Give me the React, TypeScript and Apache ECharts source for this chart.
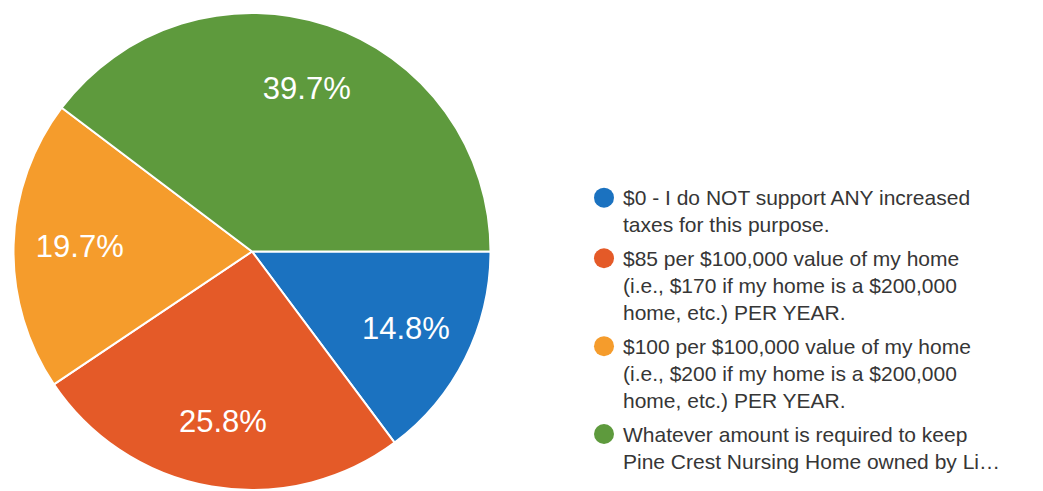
import React, { useEffect, useRef } from "react";
import * as echarts from "echarts";

const categories: string[] = [
  "$0 - I do NOT support ANY increased\ntaxes for this purpose.",
  "$85 per $100,000 value of my home\n(i.e., $170 if my home is a $200,000\nhome, etc.) PER YEAR.",
  "$100 per $100,000 value of my home\n(i.e., $200 if my home is a $200,000\nhome, etc.) PER YEAR.",
  "Whatever amount is required to keep\nPine Crest Nursing Home owned by Li…",
];
const shares: number[] = [14.8, 25.8, 19.7, 39.7];
const colors: string[] = ["#1b72c0", "#e45a28", "#f59c2c", "#5e9a3d"];

const LINE_H = 27.3;
const DOT = 20;

function dotIcon(lines: number): string {
  const h = DOT + (lines - 1) * LINE_H;
  return `path://M0 10A10 10 0 1 1 20 10A10 10 0 1 1 0 10ZM24 ${h}`;
}

export default function App() {
  const ref = useRef<HTMLDivElement>(null);
  useEffect(() => {
    if (!ref.current) return;
    const chart = echarts.init(ref.current, undefined, { renderer: "svg" });
    const data = categories.map((name, i) => ({
      name,
      value: shares[i],
      itemStyle: { color: colors[i] },
    }));
    const labelData = categories.map((name, i) => ({ name, value: shares[i] }));
    chart.setOption({
      animation: false,
      backgroundColor: "#ffffff",
      legend: {
        orient: "vertical",
        left: 594,
        top: 184,
        padding: 0,
        itemGap: 6,
        itemWidth: 24,
        itemHeight: 76,
        selectedMode: false,
        itemStyle: { borderWidth: 0 },
        textStyle: {
          fontFamily: "'Liberation Sans', Arial, sans-serif",
          fontSize: 21,
          lineHeight: LINE_H,
          color: "#363636",
        },
        data: categories.map((name) => ({
          name,
          icon: dotIcon(name.split("\n").length),
        })),
      },
      series: [
        {
          type: "pie",
          center: [252, 251.5],
          radius: 238.5,
          startAngle: 0,
          clockwise: true,
          silent: true,
          label: { show: false },
          labelLine: { show: false },
          itemStyle: { borderColor: "#ffffff", borderWidth: 2 },
          data,
        },
        {
          type: "pie",
          center: [252, 251.5],
          radius: [100, 238.5],
          startAngle: 0,
          clockwise: true,
          silent: true,
          legendHoverLink: false,
          itemStyle: { color: "rgba(0,0,0,0)", borderWidth: 0 },
          label: {
            show: true,
            position: "inside",
            color: "#ffffff",
            fontFamily: "'Liberation Sans', Arial, sans-serif",
            fontSize: 31,
            formatter: (p: any) => `${Number(p.value).toFixed(1)}%`,
          },
          labelLine: { show: false },
          data: labelData,
        },
      ],
    });
    return () => chart.dispose();
  }, []);
  return (
    <div
      ref={ref}
      style={{ position: "fixed", left: 0, top: 0, width: 1043, height: 491 }}
    />
  );
}
